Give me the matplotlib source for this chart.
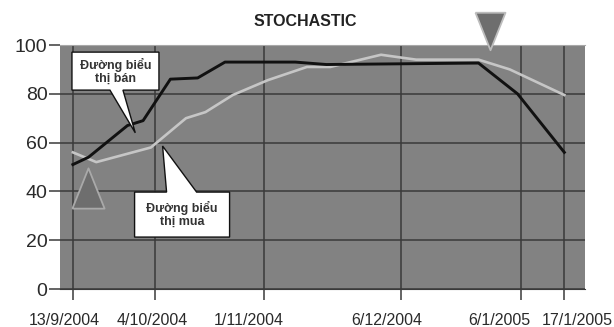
import matplotlib
matplotlib.use("Agg")
import matplotlib.pyplot as plt
import matplotlib.transforms as mtransforms
from matplotlib.path import Path
from matplotlib.patches import Polygon
import pandas as pd

# %K (sell line) and %D (buy line) readings
sell_dates = ["2004-09-13", "2004-09-17", "2004-09-27", "2004-09-29", "2004-10-01",
              "2004-10-08", "2004-10-15", "2004-10-22", "2004-11-09", "2004-11-17",
              "2004-12-26", "2005-01-05", "2005-01-17"]
sell_values = [51, 54, 67, 68, 69, 86, 86.5, 93, 93, 92, 92.6, 80, 56]

buy_dates = ["2004-09-13", "2004-09-19", "2004-10-03", "2004-10-12", "2004-10-17",
             "2004-10-24", "2004-11-02", "2004-11-12", "2004-11-18", "2004-12-01",
             "2004-12-10", "2004-12-26", "2005-01-03", "2005-01-17"]
buy_values = [56, 52, 58, 70, 72.5, 79.5, 85.6, 91, 91, 96, 94, 94, 90, 79.5]

tick_dates = ["2004-09-13", "2004-10-04", "2004-11-01", "2004-12-06", "2005-01-06", "2005-01-17"]
tick_labels = ["13/9/2004", "4/10/2004", "1/11/2004", "6/12/2004", "6/1/2005", "17/1/2005"]
yticks = [0, 20, 40, 60, 80, 100]

buy_signal = ("2004-09-17", 41.4)
sell_signal = ("2004-12-29", 105.7)

sell_note = "Đường biểu\nthị bán"
buy_note = "Đường biểu\nthị mua"

sell_x = pd.to_datetime(sell_dates)
buy_x = pd.to_datetime(buy_dates)
ticks_x = pd.to_datetime(tick_dates)

plt.rcParams["font.family"] = ["Liberation Sans", "DejaVu Sans"]

fig = plt.figure(figsize=(6.14, 3.27), dpi=100)
ax = fig.add_axes([60 / 614, 38 / 327, 525 / 614, 244 / 327])
ax.set_facecolor("#828282")

grid_c = "#3a3a3a"
ax.set_xticks(ticks_x)
ax.set_xticklabels(tick_labels)
ax.set_yticks(yticks)
ax.grid(True, color=grid_c, lw=1.1)
ax.yaxis.get_gridlines()[-1].set_visible(False)
ax.set_axisbelow(True)
ax.tick_params(direction="out", length=8, width=1.1, color=grid_c)
ax.tick_params(axis="x", labelsize=11.5, pad=9, labelcolor="#2a2a2a")
ax.tick_params(axis="y", labelsize=14, pad=1, labelcolor="#2a2a2a")
for s in ("left", "right"):
    ax.spines[s].set_visible(False)
ax.spines["top"].set_color("#a8a8a8")
ax.spines["bottom"].set_color(grid_c)

# nudge date labels sideways so the last two do not collide
shifts = [-9, -3, -15, -14, -22, 13]
for lab, dx in zip(ax.get_xticklabels(), shifts):
    lab.set_transform(lab.get_transform() + mtransforms.ScaledTranslation(dx / 100, 0, fig.dpi_scale_trans))

ax.plot(buy_x, buy_values, color="#c6c6c6", lw=1.9, zorder=3)
ax.plot(sell_x, sell_values, color="#111111", lw=2.1, zorder=4)

ax.set_xlim(pd.Timestamp("2004-09-13") - pd.Timedelta(days=3.3),
            pd.Timestamp("2004-09-13") + pd.Timedelta(days=131.3))
ax.set_ylim(0, 100)

# signal triangles
up = Path([(-0.4, -0.5), (0.4, -0.5), (0, 0.5), (-0.4, -0.5)])
down = Path([(-0.4, 0.5), (0.4, 0.5), (0, -0.5), (-0.4, 0.5)])
ax.plot(pd.Timestamp(buy_signal[0]), buy_signal[1], marker=up, ms=29,
        mfc="#6e6e6e", mec="#a9a9a9", mew=1.3, zorder=5)
ax.plot(pd.Timestamp(sell_signal[0]), sell_signal[1], marker=down, ms=27,
        mfc="#6e6e6e", mec="#bdbdbd", mew=1.3, zorder=5, clip_on=False)


def callout(text, center, tip, w, h, base, side):
    """Speech-bubble label: box of w x h px around `center`, pointer to `tip`."""
    cx, cy = ax.transData.transform((mdate(center[0]), center[1]))
    tx, ty = ax.transData.transform((mdate(tip[0]), tip[1]))
    l, r, b, t = cx - w / 2, cx + w / 2, cy - h / 2, cy + h / 2
    b0, b1 = cx + base[0], cx + base[1]
    if side == "bottom":
        pts = [(l, t), (r, t), (r, b), (b1, b), (tx, ty), (b0, b), (l, b)]
    else:
        pts = [(l, b), (r, b), (r, t), (b1, t), (tx, ty), (b0, t), (l, t)]
    fig.patches.append(Polygon(pts, closed=True, fc="white", ec="#111111", lw=1,
                               transform=None, figure=fig, zorder=6))
    fig.text(cx / fig.dpi / fig.get_figwidth(), cy / fig.dpi / fig.get_figheight(), text,
             ha="center", va="center", fontsize=9, fontweight="bold",
             color="#333333", zorder=7, linespacing=1.1)


def mdate(d):
    return matplotlib.dates.date2num(pd.Timestamp(d))


callout(sell_note, ("2004-09-23 22:00", 89.3), ("2004-09-29", 64),
        87, 38, (-5.5, 7.5), "bottom")
callout(buy_note, ("2004-10-11", 30.5), ("2004-10-06", 58.6),
        95, 45, (-15.5, 14.5), "top")

fig.text(305 / 614, 1 - 22 / 327, "STOCHASTIC", ha="center", va="center",
         fontsize=11.5, fontweight="bold", color="#222222")

fig.savefig("out.png", dpi=100)
plt.close(fig)
